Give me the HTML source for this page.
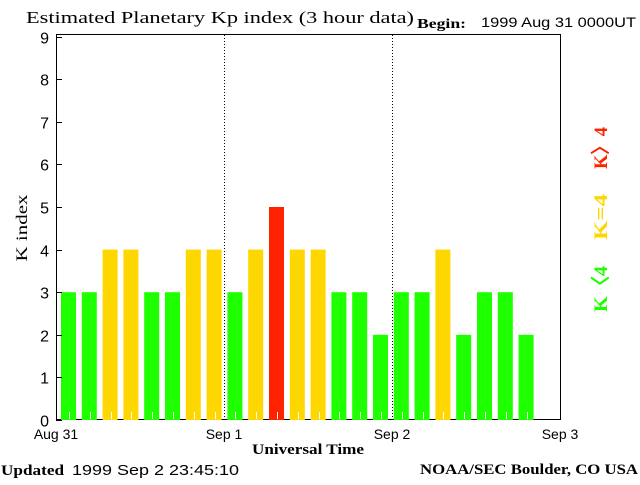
<!DOCTYPE html>
<html><head><meta charset="utf-8"><style>
body{margin:0;background:#fff;width:640px;height:480px;overflow:hidden}
svg text{font-family:"Liberation Sans",sans-serif}
.serif{font-family:"Liberation Serif",serif}
</style></head><body>
<svg id="chart" width="640" height="480" xmlns="http://www.w3.org/2000/svg">
<text class="serif" x="26" y="23" font-size="17" textLength="388" lengthAdjust="spacingAndGlyphs" fill="#000">Estimated Planetary Kp index (3 hour data)</text>
<text class="serif" x="417" y="28" font-size="14" font-weight="bold" textLength="49" lengthAdjust="spacingAndGlyphs" fill="#000">Begin:</text>
<text x="481" y="27" font-size="14" textLength="155" lengthAdjust="spacingAndGlyphs" fill="#000">1999 Aug 31 0000UT</text>
<rect x="56.5" y="34.5" width="504" height="385" fill="none" stroke="#000" stroke-width="1"/>
<g id="bars"></g>
<g id="axes"></g>
<text class="serif" transform="translate(27,228) rotate(-90)" text-anchor="middle" font-size="16" textLength="67" lengthAdjust="spacingAndGlyphs" fill="#000">K index</text>
<text class="serif" x="308" y="454" text-anchor="middle" font-size="15" font-weight="bold" textLength="112" lengthAdjust="spacingAndGlyphs" fill="#000">Universal Time</text>
<text class="serif" transform="translate(607,148) rotate(-90)" text-anchor="middle" font-size="19" font-weight="bold" textLength="42" lengthAdjust="spacingAndGlyphs" fill="#ff2200">K〉4</text>
<text class="serif" transform="translate(607,217) rotate(-90)" text-anchor="middle" font-size="19" font-weight="bold" textLength="46" lengthAdjust="spacingAndGlyphs" fill="#ffd700">K=4</text>
<text class="serif" transform="translate(607,289) rotate(-90)" text-anchor="middle" font-size="19" font-weight="bold" textLength="46" lengthAdjust="spacingAndGlyphs" fill="#1eff00">K〈4</text>
<text class="serif" x="1" y="475" font-size="15" font-weight="bold" textLength="63" lengthAdjust="spacingAndGlyphs" fill="#000">Updated</text>
<text x="72" y="475" font-size="15" textLength="167" lengthAdjust="spacingAndGlyphs" fill="#000">1999 Sep  2 23:45:10</text>
<text class="serif" x="420" y="474" font-size="15" font-weight="bold" textLength="218" lengthAdjust="spacingAndGlyphs" fill="#000">NOAA/SEC Boulder, CO USA</text>
</svg>
<script>
const kpValues = [3,3,4,4,3,3,4,4, 3,4,5,4,4,3,3,2, 3,3,4,2,3,3,2];
const yTicks = [0,1,2,3,4,5,6,7,8,9];
const dayLabels = ["Aug 31","Sep 1","Sep 2","Sep 3"];
const NS='http://www.w3.org/2000/svg';
const x0=56, dayW=168, slotW=20.8, barX0=61, y0=420, unit=42.6;
function xScale(i){return barX0+i*slotW;}
function yScale(v){return y0-v*unit;}
function mk(tag,attrs){const e=document.createElementNS(NS,tag);for(const k in attrs)e.setAttribute(k,attrs[k]);return e;}
const bars=document.getElementById('bars'), axes=document.getElementById('axes');
kpValues.forEach((v,i)=>{
  const c=v>4?'#ff2200':(v==4?'#ffd700':'#1eff00');
  const r=mk('rect',{x:xScale(i),y:yScale(v),width:15,height:y0-yScale(v),fill:c});
  
  
  bars.appendChild(r);
  const tx=Math.round(xScale(i)+8)+0.5;
  const t=mk('line',{x1:tx,x2:tx,y1:412,y2:419,stroke:'#fff','stroke-width':1});
  
  
  bars.appendChild(t);
});
yTicks.forEach(v=>{
  const y=Math.round(yScale(v))+0.5;
  const l=mk('line',{x1:56,x2:62,y1:y,y2:y,stroke:'#000'});
  
  
  axes.appendChild(l);
  const t=mk('text',{x:49,y:y+6,'text-anchor':'end','font-size':'16',fill:'#000'});
  t.textContent=v;
  
  
  axes.appendChild(t);
});
dayLabels.forEach((d,i)=>{
  const x=x0+i*dayW;
  if(i>0&&i<3){
    const l=mk('line',{x1:x+0.5,x2:x+0.5,y1:35,y2:419,stroke:'#000','stroke-dasharray':'1,2'});
    
    
    axes.appendChild(l);
  }
  const t=mk('text',{x:x,y:439,'text-anchor':'middle','font-size':'14',fill:'#000'});
  t.textContent=d;
  
  
  axes.appendChild(t);
});
</script>
</body></html>
